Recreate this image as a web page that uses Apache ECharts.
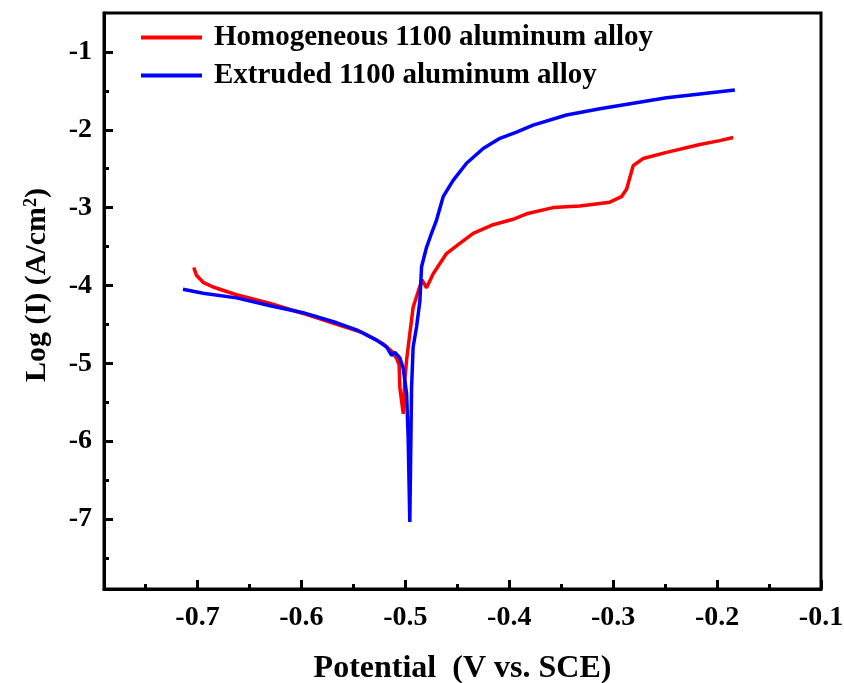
<!DOCTYPE html>
<html>
<head>
<meta charset="utf-8">
<script src="https://cdn.jsdelivr.net/npm/echarts@6/dist/echarts.min.js"></script>
<style>
  html, body { margin: 0; padding: 0; background: #fff; }
  #chart { width: 844px; height: 683px; }
</style>
</head>
<body>
<div id="chart"></div>
<script>
  // potential (V vs. SCE) and log current density
  const homoV = [-0.7036, -0.701, -0.6946, -0.685, -0.6625, -0.63, -0.5984, -0.566, -0.5406, -0.5214,
    -0.512, -0.508, -0.506, -0.5053, -0.503, -0.502, -0.5005, -0.4988, -0.4957, -0.4925, -0.4877,
    -0.484, -0.4796, -0.4732, -0.4604, -0.4476, -0.4347, -0.4155, -0.3963, -0.3833, -0.3578, -0.332,
    -0.3032, -0.292, -0.287, -0.2839, -0.2807, -0.2711, -0.2486, -0.2165, -0.1974, -0.1845];
  const homoLogI = [-3.77, -3.87, -3.96, -4.02, -4.12, -4.23, -4.36, -4.5, -4.61, -4.75,
    -4.86, -4.95, -5.02, -5.31, -5.55, -5.65, -5.2, -4.96, -4.62, -4.28, -4.08,
    -3.93, -4.03, -3.85, -3.59, -3.46, -3.33, -3.22, -3.15, -3.08, -3.0, -2.98,
    -2.93, -2.86, -2.76, -2.61, -2.46, -2.37, -2.29, -2.19, -2.14, -2.1];

  const extrV = [-0.714, -0.6946, -0.6625, -0.63, -0.5984, -0.566, -0.547, -0.528, -0.518, -0.5133,
    -0.51, -0.5053, -0.502, -0.4988, -0.4973, -0.4957, -0.494, -0.4925, -0.4892, -0.486, -0.4844,
    -0.4796, -0.4748, -0.47, -0.4636, -0.454, -0.4411, -0.4251, -0.409, -0.393, -0.377, -0.3449,
    -0.3128, -0.2807, -0.2486, -0.2165, -0.1829];
  const extrLogI = [-4.05, -4.1, -4.16, -4.26, -4.35, -4.48, -4.57, -4.7, -4.79, -4.9,
    -4.86, -4.93, -5.07, -5.39, -5.95, -7.04, -5.31, -4.79, -4.53, -4.2, -3.76,
    -3.51, -3.33, -3.16, -2.86, -2.65, -2.43, -2.24, -2.11, -2.03, -1.94, -1.81,
    -1.73, -1.66, -1.59, -1.54, -1.49];

  const xTicks = [-0.7, -0.6, -0.5, -0.4, -0.3, -0.2, -0.1];
  const xMinorTicks = [-0.75, -0.65, -0.55, -0.45, -0.35, -0.25, -0.15];
  const yTicks = [-7, -6, -5, -4, -3, -2, -1];
  const yMinorTicks = [-7.5, -6.5, -5.5, -4.5, -3.5, -2.5, -1.5];

  const FONT = "'Liberation Serif', 'Times New Roman', serif";
  const pairs = (xs, ys) => xs.map((x, i) => [x, ys[i]]);

  const chart = echarts.init(document.getElementById("chart"));

  const baseX = {
    type: "value",
    position: "bottom",
    min: -0.79,
    max: -0.1,
    splitLine: { show: false },
  };
  const baseY = {
    type: "value",
    position: "left",
    min: -7.9,
    max: -0.5,
    splitLine: { show: false },
  };

  chart.setOption({
    animation: false,
    grid: {
      left: 104, right: 23, top: 13, bottom: 94,
      outerBoundsMode: "none",
      containLabel: false,
      show: true, borderColor: "#000", borderWidth: 3,
    },
    legend: {
      orient: "vertical",
      left: 136,
      top: 18,
      itemWidth: 61,
      itemHeight: 4,
      itemGap: 9,
      icon: "rect",
      textStyle: {
        fontFamily: FONT, fontWeight: "bold", fontSize: 29, color: "#000",
        padding: [0, 0, 0, 7],
      },
      data: ["Homogeneous 1100 aluminum alloy", "Extruded 1100 aluminum alloy"],
    },
    xAxis: [
      Object.assign({}, baseX, {
        name: "Potential  (V vs. SCE)",
        nameLocation: "middle",
        nameGap: 64,
        nameTextStyle: { fontFamily: FONT, fontWeight: "bold", fontSize: 32, color: "#000" },
        axisLine: { lineStyle: { color: "#000", width: 3 } },
        axisTick: { inside: true, length: 9, lineStyle: { width: 3, color: "#000" }, customValues: xTicks },
        axisLabel: {
          customValues: xTicks, margin: 15,
          fontFamily: FONT, fontWeight: "bold", fontSize: 28, color: "#000",
          formatter: (v) => v.toFixed(1),
        },
      }),
      Object.assign({}, baseX, {
        axisLine: { show: false },
        axisTick: { inside: true, length: 5, lineStyle: { width: 3, color: "#000" }, customValues: xMinorTicks },
        axisLabel: { show: false },
      }),
    ],
    yAxis: [
      Object.assign({}, baseY, {
        name: "{a|Log (I) (A/cm}{s|2}{a|)}",
        nameLocation: "middle",
        nameRotate: 90,
        nameGap: 52,
        nameTextStyle: {
          padding: [0, 0, 0, 32],
          rich: {
            a: { fontFamily: FONT, fontWeight: "bold", fontSize: 30, color: "#000" },
            s: { fontFamily: FONT, fontWeight: "bold", fontSize: 18, color: "#000", verticalAlign: "top", padding: [0, 0, 12, 0] },
          },
        },
        axisLine: { lineStyle: { color: "#000", width: 3 } },
        axisTick: { inside: true, length: 9, lineStyle: { width: 3, color: "#000" }, customValues: yTicks },
        axisLabel: {
          customValues: yTicks, margin: 12,
          fontFamily: FONT, fontWeight: "bold", fontSize: 28, color: "#000",
        },
      }),
      Object.assign({}, baseY, {
        axisLine: { show: false },
        axisTick: { inside: true, length: 5, lineStyle: { width: 3, color: "#000" }, customValues: yMinorTicks },
        axisLabel: { show: false },
      }),
    ],
    series: [
      {
        name: "Homogeneous 1100 aluminum alloy",
        type: "line",
        data: pairs(homoV, homoLogI),
        showSymbol: false,
        color: "#ff0000",
        lineStyle: { color: "#ff0000", width: 3.5 },
      },
      {
        name: "Extruded 1100 aluminum alloy",
        type: "line",
        data: pairs(extrV, extrLogI),
        showSymbol: false,
        color: "#0000ff",
        lineStyle: { color: "#0000ff", width: 3.5 },
      },
    ],
  });
</script>
</body>
</html>
